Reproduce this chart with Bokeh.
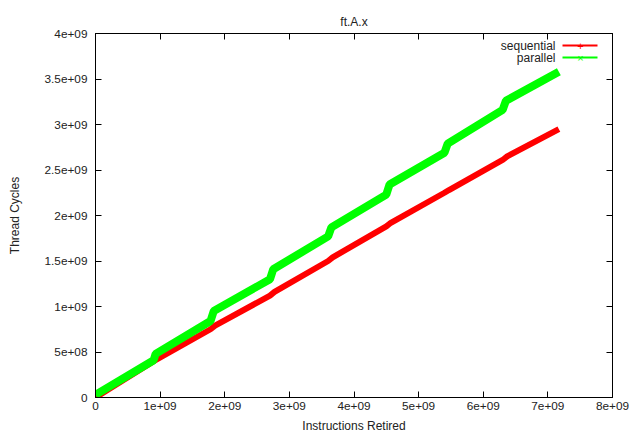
from bokeh.plotting import figure
from bokeh.models import (LinearAxis, FixedTicker, Range1d, Label, BoxAnnotation,
                          ColumnDataSource)
from bokeh.embed import file_html
from bokeh.resources import INLINE

# ---- data ----
seq_x = [0.0, 0.9e9, 1.78e9, 1.85e9, 2.70e9, 2.77e9, 3.60e9, 3.67e9, 4.50e9, 4.57e9,
         5.40e9, 5.47e9, 6.30e9, 6.37e9, 7.17e9]
seq_y = [0.0, 0.40e9, 0.75e9, 0.79e9, 1.12e9, 1.16e9, 1.50e9, 1.54e9, 1.88e9, 1.92e9,
         2.25e9, 2.28e9, 2.61e9, 2.65e9, 2.95e9]

par_x = [0.0, 0.90e9, 0.93e9, 1.78e9, 1.83e9, 2.70e9, 2.75e9, 3.60e9, 3.65e9, 4.50e9,
         4.55e9, 5.40e9, 5.45e9, 6.30e9, 6.35e9, 7.17e9]
par_y = [0.03e9, 0.41e9, 0.48e9, 0.84e9, 0.95e9, 1.30e9, 1.41e9, 1.77e9, 1.87e9, 2.23e9,
         2.34e9, 2.69e9, 2.79e9, 3.16e9, 3.26e9, 3.58e9]

x_ticks = [0, 1e9, 2e9, 3e9, 4e9, 5e9, 6e9, 7e9, 8e9]
x_tick_labels = ["0", "1e+09", "2e+09", "3e+09", "4e+09", "5e+09", "6e+09", "7e+09", "8e+09"]
y_ticks = [0, 0.5e9, 1e9, 1.5e9, 2e9, 2.5e9, 3e9, 3.5e9, 4e9]
y_tick_labels = ["0", "5e+08", "1e+09", "1.5e+09", "2e+09", "2.5e+09", "3e+09", "3.5e+09", "4e+09"]

series_names = ["sequential", "parallel"]
series_colors = ["#ff0000", "#00ff00"]
series_markers = ["+", "×"]

FONT = "Liberation Sans"
TXT = "#222222"

p = figure(width=629, height=435, output_backend="svg", toolbar_location=None,
           x_range=Range1d(0, 8e9), y_range=Range1d(0, 4e9),
           min_border_left=95, min_border_right=17, min_border_top=33, min_border_bottom=38)

p.title.text = "ft.A.x"
p.title.align = "center"
p.title.text_font = FONT
p.title.text_font_style = "normal"
p.title.text_font_size = "12px"
p.title.text_color = TXT

p.xgrid.visible = False
p.ygrid.visible = False
p.outline_line_color = "black"
p.background_fill_color = "white"
p.border_fill_color = "white"

xt = FixedTicker(ticks=x_ticks, minor_ticks=[])
yt = FixedTicker(ticks=y_ticks, minor_ticks=[])

def style_axis(ax, ticker, labels_ticks, labels_text, show_labels=True):
    ax.ticker = ticker
    ax.axis_line_color = "black"
    ax.axis_line_width = 1
    ax.major_tick_in = 6
    ax.major_tick_out = 0
    ax.major_tick_line_color = "black"
    ax.minor_tick_line_color = None
    ax.major_label_text_font = FONT
    ax.major_label_text_color = TXT
    if show_labels:
        ax.major_label_text_font_size = "11.8px"
        ax.major_label_overrides = {t: s for t, s in zip(labels_ticks, labels_text)}
    else:
        ax.major_label_text_font_size = "0px"
        ax.major_label_text_alpha = 0
        ax.major_label_standoff = 0

xa = p.xaxis[0]
style_axis(xa, xt, x_ticks, x_tick_labels)
xa.major_label_standoff = 4
xa.axis_label = "Instructions Retired"
xa.axis_label_text_font = FONT
xa.axis_label_text_font_style = "normal"
xa.axis_label_text_font_size = "12px"
xa.axis_label_text_color = TXT
xa.axis_label_standoff = 6

ya = p.yaxis[0]
style_axis(ya, yt, y_ticks, y_tick_labels)
ya.major_label_standoff = 8
ya.axis_label = "Thread Cycles"
ya.axis_label_text_font = FONT
ya.axis_label_text_font_style = "normal"
ya.axis_label_text_font_size = "12px"
ya.axis_label_text_color = TXT
ya.axis_label_standoff = 20

top = LinearAxis()
style_axis(top, xt, x_ticks, x_tick_labels, show_labels=False)
p.add_layout(top, "above")
right = LinearAxis()
style_axis(right, yt, y_ticks, y_tick_labels, show_labels=False)
p.add_layout(right, "right")

# ---- series ----
src_seq = ColumnDataSource(dict(x=seq_x, y=seq_y))
src_par = ColumnDataSource(dict(x=par_x, y=par_y))
p.line("x", "y", source=src_seq, line_color=series_colors[0], line_width=6)
p.line("x", "y", source=src_par, line_color=series_colors[1], line_width=8)

# ---- legend (gnuplot style: text right-aligned, sample to the right) ----
# screen units are relative to the frame, origin bottom-left
for i, (name, col, mk) in enumerate(zip(series_names, series_colors, series_markers)):
    yy = 352 - 12 * i
    p.add_layout(Label(x=460, y=yy, x_units="screen", y_units="screen",
                       text=name, text_align="right", text_baseline="middle",
                       text_font=FONT, text_font_size="12px", text_color=TXT))
    p.add_layout(BoxAnnotation(left=467, right=502, top=yy + 1, bottom=yy - 1,
                               left_units="screen", right_units="screen",
                               top_units="screen", bottom_units="screen",
                               fill_color=col, fill_alpha=1, line_color=None))
    p.add_layout(Label(x=485, y=yy, x_units="screen", y_units="screen",
                       text=mk, text_align="center", text_baseline="middle",
                       text_font=FONT, text_font_size="11px", text_color=col))

open("out.html", "w").write(file_html(p, INLINE))
